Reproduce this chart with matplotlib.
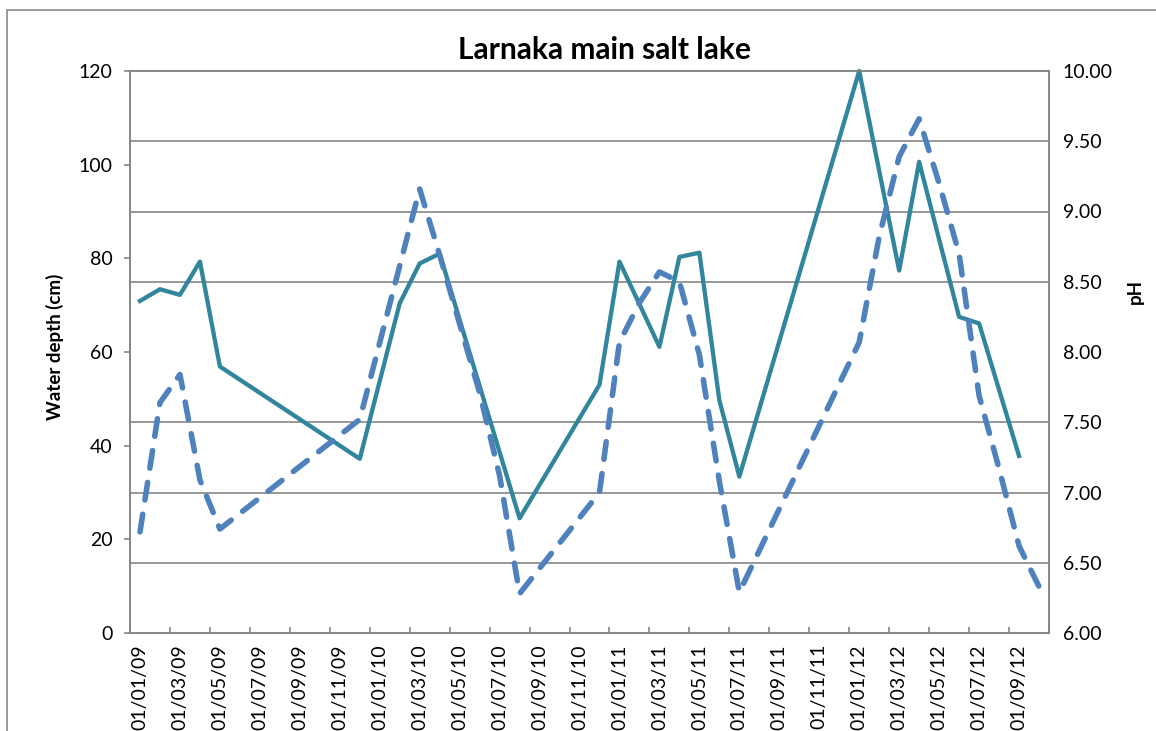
import numpy as np
import matplotlib.pyplot as plt
from matplotlib.ticker import FormatStrFormatter
from matplotlib.patches import Rectangle

plt.rcParams['font.family'] = ['Lato', 'DejaVu Sans']

# water depth (cm), left axis
depth_months = ['2009-01', '2009-02', '2009-03', '2009-04', '2009-05', '2009-12',
                '2010-02', '2010-03', '2010-04', '2010-08', '2010-12',
                '2011-01', '2011-03', '2011-04', '2011-05', '2011-06', '2011-07',
                '2012-01', '2012-03', '2012-04', '2012-06', '2012-07', '2012-09']
depth_cm = [70.9, 73.4, 72.2, 79.3, 56.9, 37.2,
            70.4, 78.9, 81.0, 24.5, 53.0,
            79.3, 61.1, 80.3, 81.2, 49.7, 33.4,
            120.0, 77.4, 100.6, 67.5, 66.1, 37.8]

# pH, right axis
ph_months = ['2009-01', '2009-02', '2009-03', '2009-04', '2009-05', '2009-12',
             '2010-03', '2010-04', '2010-05', '2010-06', '2010-07', '2010-08', '2010-12',
             '2011-01', '2011-02', '2011-03', '2011-04', '2011-05', '2011-06', '2011-07',
             '2012-01', '2012-02', '2012-03', '2012-04', '2012-05', '2012-06',
             '2012-07', '2012-08', '2012-09', '2012-10']
ph_values = [6.72, 7.64, 7.84, 7.09, 6.74, 7.52,
             9.16, 8.69, 8.20, 7.71, 7.12, 6.28, 7.00,
             8.07, 8.35, 8.57, 8.50, 7.98, 7.08, 6.29,
             8.07, 8.82, 9.39, 9.66, 9.20, 8.70,
             7.69, 7.17, 6.62, 6.33]

start_month = '2009-01'
n_months = 46
x_labels = ['01/01/09', '01/03/09', '01/05/09', '01/07/09', '01/09/09', '01/11/09',
            '01/01/10', '01/03/10', '01/05/10', '01/07/10', '01/09/10', '01/11/10',
            '01/01/11', '01/03/11', '01/05/11', '01/07/11', '01/09/11', '01/11/11',
            '01/01/12', '01/03/12', '01/05/12', '01/07/12', '01/09/12']


def month_index(s):
    y, m = s.split('-')
    y0, m0 = start_month.split('-')
    return (int(y) - int(y0)) * 12 + int(m) - int(m0)


# points sit in the middle of their month, like Excel's date axis
depth_x = np.array([month_index(m) for m in depth_months]) + 0.5
ph_x = np.array([month_index(m) for m in ph_months]) + 0.5

grey = '#868686'
W, H = 1156, 731

fig = plt.figure(figsize=(W / 100, H / 100), dpi=100)
ax = fig.add_axes([130 / W, 98 / H, 919 / W, 562 / H])
ax2 = ax.twinx()

# pH gridlines drawn on the left axes so they stay under both lines
ph_grid = np.arange(6.5, 10.01, 0.5)
ax.set_yticks((ph_grid - 6) / 4 * 120, minor=True)
ax.yaxis.grid(True, which='minor', color=grey, lw=1.2)
ax.set_axisbelow(True)

ax.plot(depth_x, depth_cm, color='#31859C', lw=3.1, clip_on=False, zorder=3)
ax2.plot(ph_x, ph_values, color='#4F81BD', lw=4.0, dashes=(3.2, 2.6),
         dash_capstyle='round', clip_on=False, zorder=3)

ax.set_xlim(0, n_months)
ax.set_ylim(0, 120)
ax2.set_ylim(6, 10)

ax.set_yticks(range(0, 121, 20))
ax.set_xticks(np.arange(0, n_months + 1, 2))
ax.set_xticklabels([])
ax.set_xticks(np.arange(len(x_labels)) * 2 + 0.5, minor=True)
ax.set_xticklabels(x_labels, minor=True, rotation=90)

ax.tick_params(axis='y', which='major', direction='out', length=4.5, width=1.2,
               color=grey, labelsize=14, pad=8)
ax.tick_params(axis='y', which='minor', length=0)
ax.tick_params(axis='x', which='major', direction='in', length=4.5, width=1.2, color=grey)
ax.tick_params(axis='x', which='minor', length=0, labelsize=14, pad=8)

ax2.set_yticks(np.arange(6, 10.01, 0.5))
ax2.yaxis.set_major_formatter(FormatStrFormatter('%.2f'))
ax2.tick_params(axis='y', length=0, labelsize=14, pad=10)

for a in (ax, ax2):
    for s in a.spines.values():
        s.set_color(grey)
        s.set_linewidth(1.2)
ax2.patch.set_visible(False)

fig.text(605 / W, 1 - 50 / H, 'Larnaka main salt lake', ha='center', va='center',
         fontsize=21.5, fontweight='bold')
fig.text(55 / W, 1 - 347 / H, 'Water depth (cm)', rotation=90, ha='center', va='center',
         fontsize=13.5, fontweight='bold')
fig.text(1135 / W, 1 - 292 / H, 'pH', rotation=90, ha='center', va='center',
         fontsize=13.5, fontweight='bold')

# chart border (cropped on the right and bottom in the original)
fig.add_artist(Rectangle((7 / W, -0.1), 1.2, 1.1 - 10 / H, transform=fig.transFigure,
                         fill=False, edgecolor='#898989', lw=1.2))

fig.savefig('out.png', dpi=100)
